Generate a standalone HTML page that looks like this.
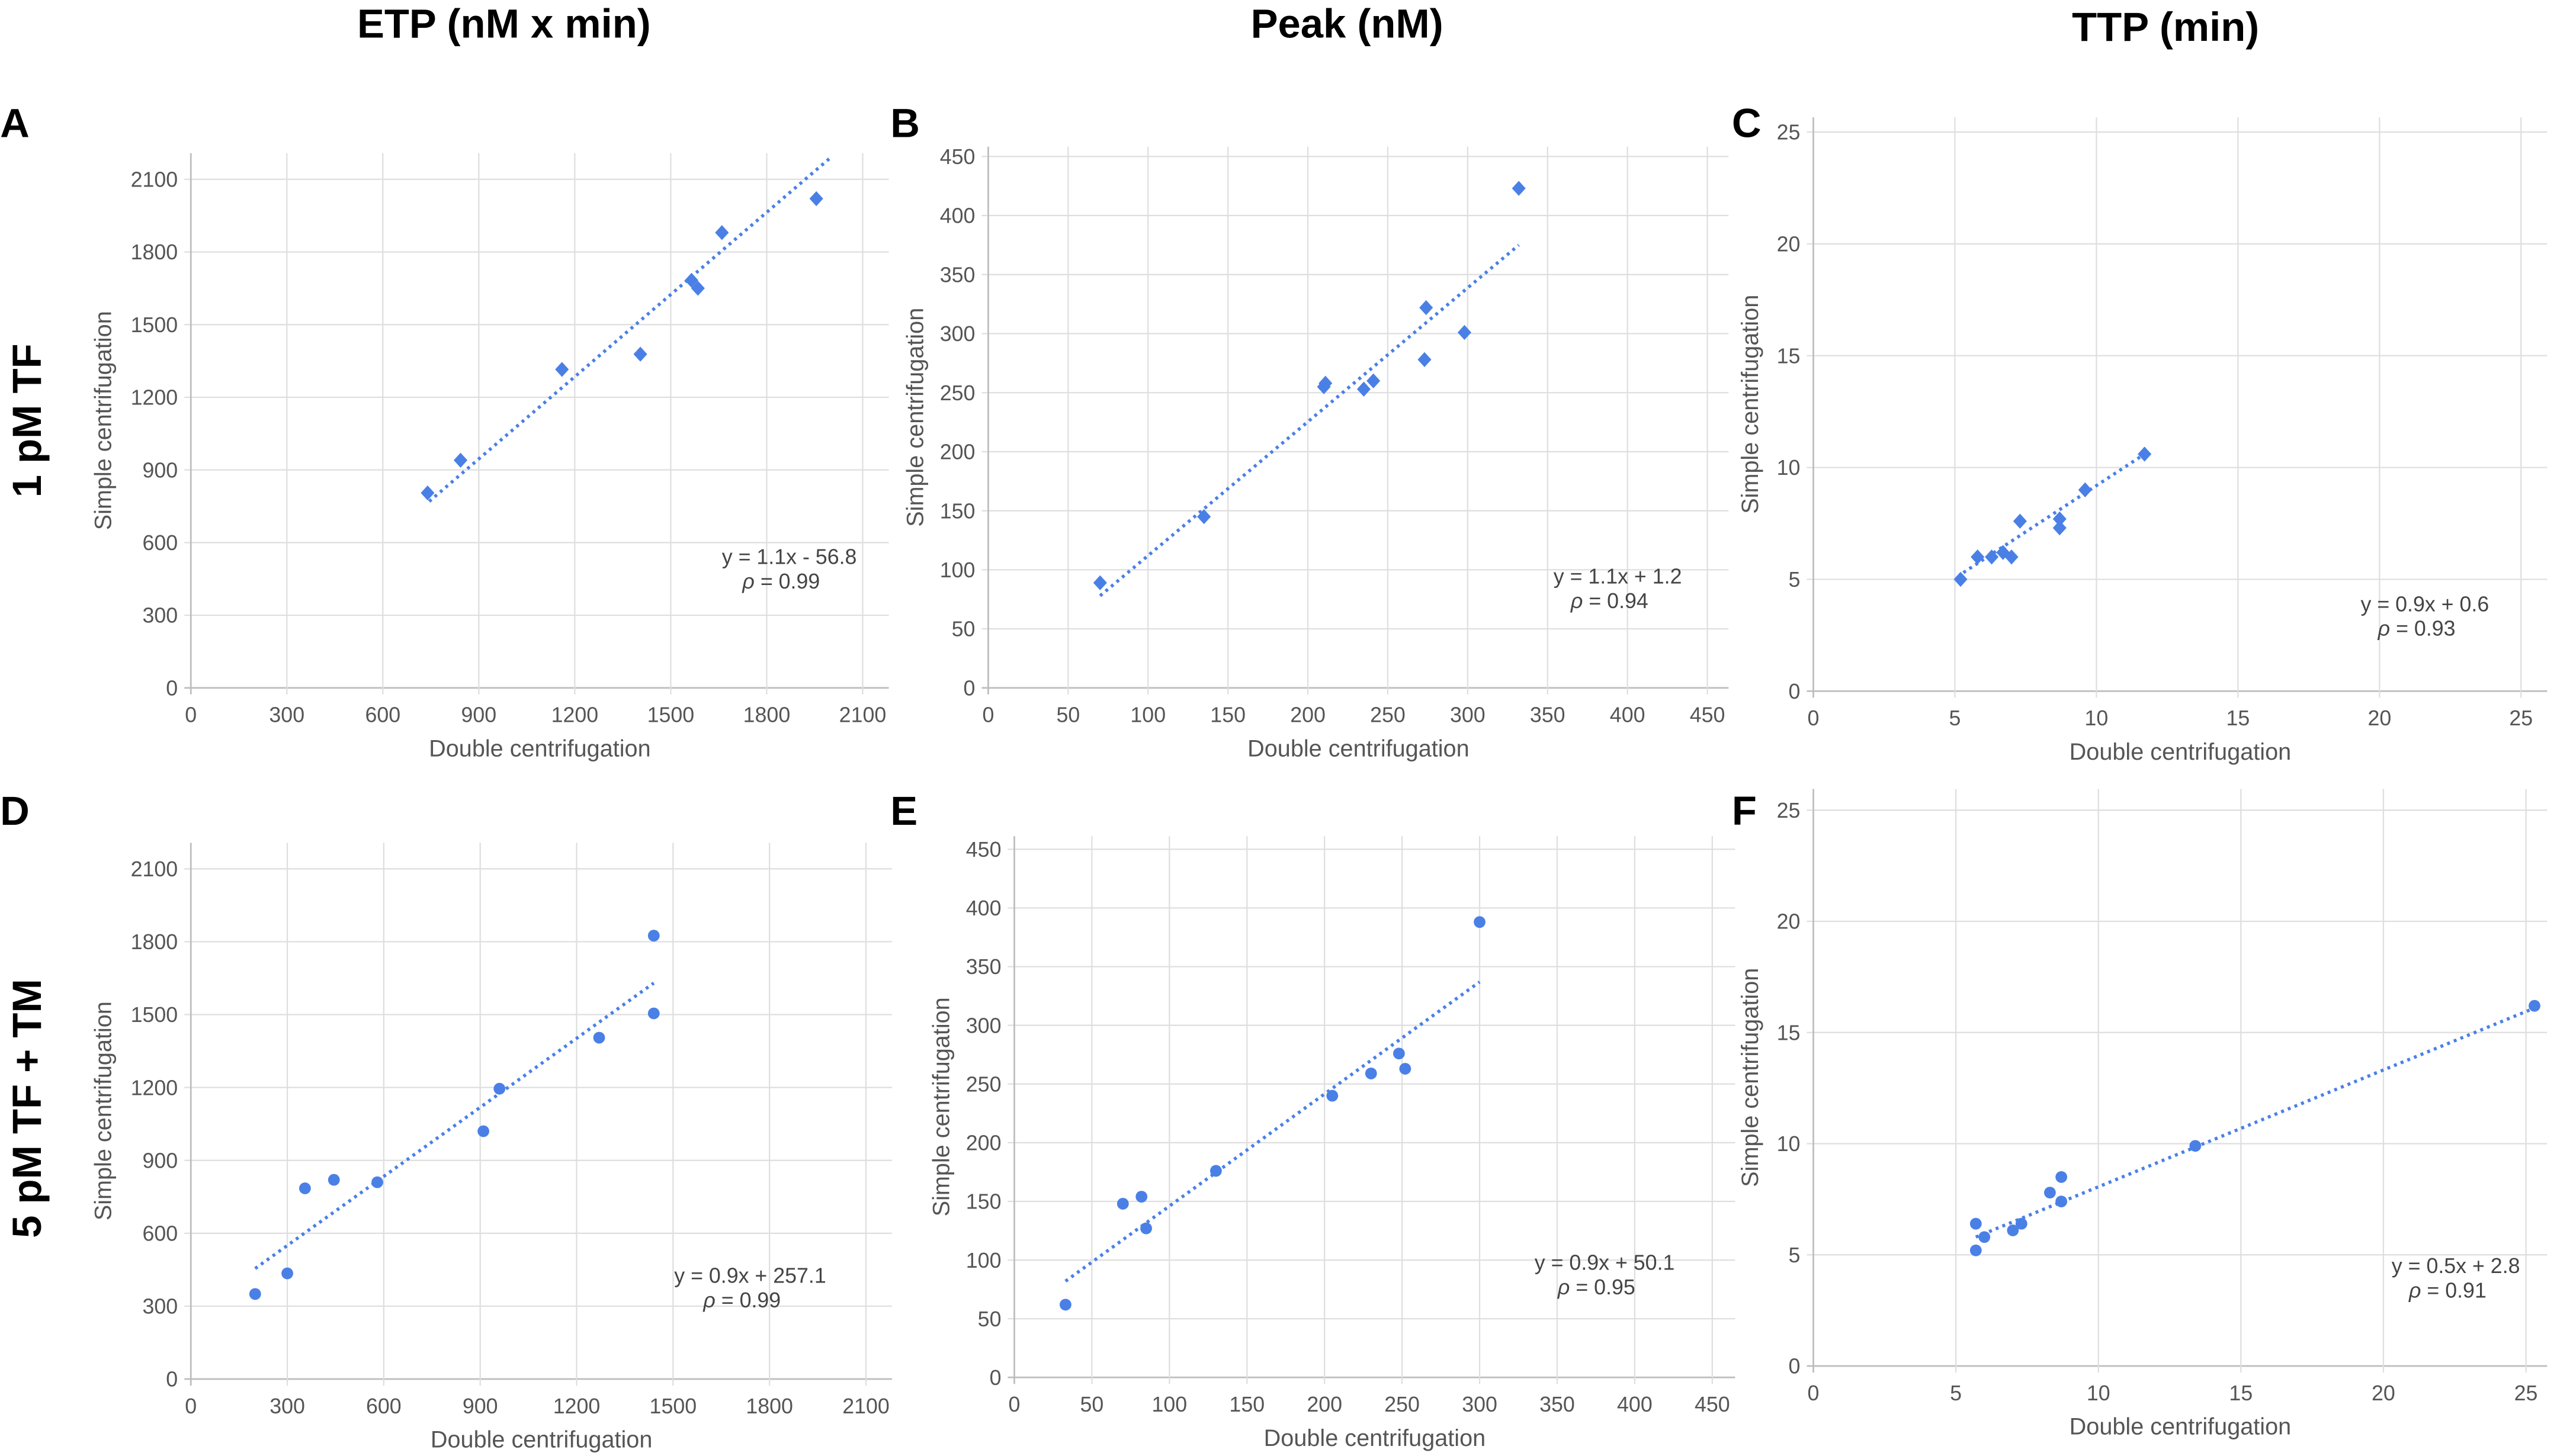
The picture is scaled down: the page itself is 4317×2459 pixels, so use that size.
<!DOCTYPE html>
<html><head><meta charset="utf-8"><style>
html,body{margin:0;padding:0;background:#fff;}
svg{display:block;}
text{font-family:"Liberation Sans",Arial,sans-serif;}
</style></head><body>
<svg id="fig" width="4317" height="2459" viewBox="0 0 1568 893.2" xmlns="http://www.w3.org/2000/svg">
<g font-weight="bold" fill="#000" font-size="25">
<text x="309" y="23" text-anchor="middle">ETP (nM x min)</text>
<text x="826" y="23" text-anchor="middle">Peak (nM)</text>
<text x="1328" y="25" text-anchor="middle">TTP (min)</text>
<text transform="translate(25,258) rotate(-90)" text-anchor="middle">1 pM TF</text>
<text transform="translate(25,680) rotate(-90)" text-anchor="middle">5 pM TF + TM</text>
<text x="0" y="84">A</text>
<text x="546" y="84">B</text>
<text x="1062" y="84">C</text>
<text x="0" y="506">D</text>
<text x="546" y="506">E</text>
<text x="1062" y="506">F</text>
</g>
</svg>
<script>
// Panel A: ETP 1 pM TF
const aX = [740, 843, 1160, 1405, 1565, 1585, 1660, 1955];
const aY = [805, 940, 1315, 1378, 1683, 1650, 1880, 2020];
const aTrendX = [745, 2000];
const aTrendY = [770, 2190];
const aTicks = [0, 300, 600, 900, 1200, 1500, 1800, 2100];
// Panel B: Peak 1 pM TF
const bX = [70, 135, 210, 211, 235, 241, 273, 274, 298, 332];
const bY = [89, 145, 255, 258, 253, 260, 278, 322, 301, 423];
const bTrendX = [70, 332];
const bTrendY = [78, 375];
const bTicks = [0, 50, 100, 150, 200, 250, 300, 350, 400, 450];
// Panel C: TTP 1 pM TF
const cX = [5.2, 5.8, 6.3, 6.7, 7.0, 7.3, 8.7, 8.7, 9.6, 11.7];
const cY = [5.0, 6.0, 6.0, 6.2, 6.0, 7.6, 7.7, 7.3, 9.0, 10.6];
const cTrendX = [5.3, 11.7];
const cTrendY = [5.3, 10.6];
const cTicks = [0, 5, 10, 15, 20, 25];
// Panel D: ETP 5 pM TF + TM
const dX = [200, 300, 355, 445, 580, 910, 960, 1270, 1440, 1440];
const dY = [350, 435, 785, 820, 810, 1020, 1195, 1405, 1825, 1505];
const dTrendX = [200, 1440];
const dTrendY = [455, 1630];
// Panel E: Peak 5 pM TF + TM
const eX = [33, 70, 82, 85, 130, 205, 230, 248, 252, 300];
const eY = [62, 148, 154, 127, 176, 240, 259, 276, 263, 388];
const eTrendX = [33, 300];
const eTrendY = [82, 337];
// Panel F: TTP 5 pM TF + TM
const fX = [5.7, 5.7, 6.0, 7.0, 7.3, 8.3, 8.7, 8.7, 13.4, 25.3];
const fY = [5.2, 6.4, 5.8, 6.1, 6.4, 7.8, 8.5, 7.4, 9.9, 16.2];
const fTrendX = [5.7, 25.3];
const fTrendY = [5.8, 16.1];

const NS = "http://www.w3.org/2000/svg";
const svg = document.getElementById('fig');
const BLUE = "#4a80e6";
function mk(tag, attrs, parent){
  const e = document.createElementNS(NS, tag);
  for (const k in attrs) e.setAttribute(k, attrs[k]);
  parent.appendChild(e); return e;
}
function panel(cfg){
  const g = mk('g', {}, svg);
  
  
  const xmax = cfg.xt[cfg.xt.length-1], ymax = cfg.yt[cfg.yt.length-1];
  const sx = v => cfg.x0 + (v / xmax) * (cfg.x1 - cfg.x0);
  const sy = v => cfg.y0 - (v / ymax) * (cfg.y0 - cfg.y1);
  cfg.yt.forEach(t => {
    const l = mk('line', {x1: cfg.x0-4, x2: cfg.right, y1: sy(t), y2: sy(t), stroke: t===0?'#bdbdbd':'#dedede', 'stroke-width': t===0?1:0.8}, g);
    
    
    const tx = mk('text', {x: cfg.x0-8, y: sy(t)+4.6, 'text-anchor':'end', 'font-size':13, fill:'#555'}, g);
    tx.textContent = t;
    
    
  });
  cfg.xt.forEach(t => {
    const l = mk('line', {x1: sx(t), x2: sx(t), y1: cfg.top, y2: cfg.y0+4, stroke: t===0?'#bdbdbd':'#dedede', 'stroke-width': t===0?1:0.8}, g);
    
    
    const tx = mk('text', {x: sx(t), y: cfg.y0+21, 'text-anchor':'middle', 'font-size':13, fill:'#555'}, g);
    tx.textContent = t;
    
    
  });
  const xt = mk('text', {x: (cfg.x0+cfg.right)/2, y: cfg.y0+42, 'text-anchor':'middle', 'font-size':14.4, fill:'#555'}, g);
  xt.textContent = 'Double centrifugation';
  
  
  const yt = mk('text', {transform: `translate(${cfg.ytx},${(cfg.top+cfg.y0)/2}) rotate(-90)`, 'text-anchor':'middle', 'font-size':14.4, fill:'#555'}, g);
  yt.textContent = 'Simple centrifugation';
  
  
  const tl = mk('line', {x1: sx(cfg.tx[0]), y1: sy(cfg.ty[0]), x2: sx(cfg.tx[1]), y2: sy(cfg.ty[1]), stroke: BLUE, 'stroke-width': 2, 'stroke-dasharray': '1.8 2.6'}, g);
  
  
  cfg.px.forEach((v, i) => {
    const cx = sx(v), cy = sy(cfg.py[i]);
    let m;
    if (cfg.diamond) {
      m = mk('polygon', {points: `${cx},${cy-4.6} ${cx+4.2},${cy} ${cx},${cy+4.6} ${cx-4.2},${cy}`, fill: BLUE}, g);
    } else {
      m = mk('circle', {cx: cx, cy: cy, r: 3.6, fill: BLUE}, g);
    }
    
    
  });
  const e1 = mk('text', {x: cfg.ex, y: cfg.ey, 'text-anchor':'middle', 'font-size':13, fill:'#444'}, g);
  e1.textContent = cfg.eq;
  
  
  const e2 = mk('text', {x: cfg.ex-5, y: cfg.ey+15, 'text-anchor':'middle', 'font-size':13, fill:'#444'}, g);
  e2.innerHTML = '<tspan font-style="italic">ρ</tspan> = ' + cfg.rho;
  
  
}
panel({id:'a', x0:117, x1:529, y0:422, y1:110, top:94, right:545, ytx:68, xt:aTicks, yt:aTicks, px:aX, py:aY, tx:aTrendX, ty:aTrendY, diamond:true, eq:'y = 1.1x - 56.8', rho:'0.99', ex:484, ey:346});
panel({id:'b', x0:606, x1:1047, y0:422, y1:96, top:90, right:1060, ytx:566, xt:bTicks, yt:bTicks, px:bX, py:bY, tx:bTrendX, ty:bTrendY, diamond:true, eq:'y = 1.1x + 1.2', rho:'0.94', ex:992, ey:358});
panel({id:'c', x0:1112, x1:1546, y0:424, y1:81, top:72, right:1562, ytx:1078, xt:cTicks, yt:cTicks, px:cX, py:cY, tx:cTrendX, ty:cTrendY, diamond:true, eq:'y = 0.9x + 0.6', rho:'0.93', ex:1487, ey:375});
panel({id:'d', x0:117, x1:531, y0:846, y1:533, top:517, right:547, ytx:68, xt:aTicks, yt:aTicks, px:dX, py:dY, tx:dTrendX, ty:dTrendY, diamond:false, eq:'y = 0.9x + 257.1', rho:'0.99', ex:460, ey:787});
panel({id:'e', x0:622, x1:1050, y0:845, y1:521, top:513, right:1064, ytx:582, xt:bTicks, yt:bTicks, px:eX, py:eY, tx:eTrendX, ty:eTrendY, diamond:false, eq:'y = 0.9x + 50.1', rho:'0.95', ex:984, ey:779});
panel({id:'f', x0:1112, x1:1549, y0:838, y1:497, top:484, right:1562, ytx:1078, xt:cTicks, yt:cTicks, px:fX, py:fY, tx:fTrendX, ty:fTrendY, diamond:false, eq:'y = 0.5x + 2.8', rho:'0.91', ex:1506, ey:781});
</script>
</body></html>
